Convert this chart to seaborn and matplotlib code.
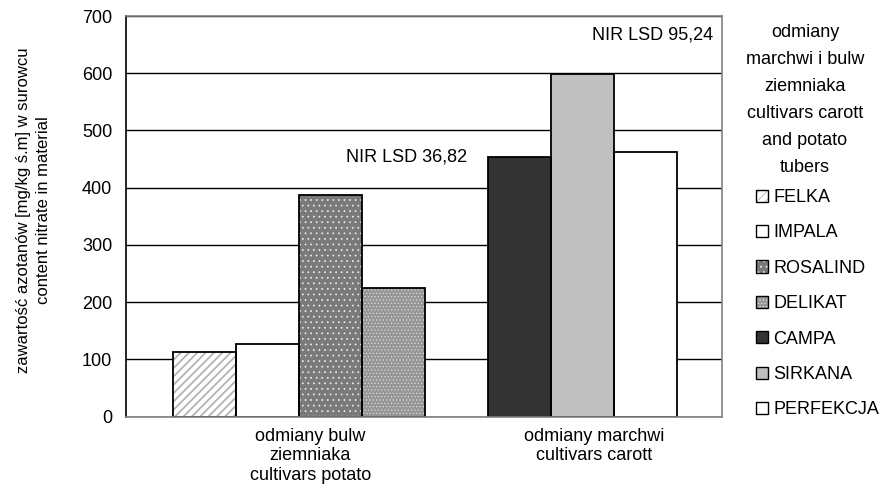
import matplotlib
matplotlib.use("Agg")
import matplotlib.pyplot as plt
from matplotlib.patches import Patch, Rectangle
from matplotlib.legend_handler import HandlerTuple
import pandas as pd
import seaborn as sns

# ---- data -------------------------------------------------------------
varieties = ["FELKA", "IMPALA", "ROSALIND", "DELIKAT", "CAMPA", "SIRKANA", "PERFEKCJA"]
nitrate = [113, 127, 388, 224, 454, 598, 462]          # mg/kg s.m.
crop_group = [0, 0, 0, 0, 1, 1, 1]                      # 0 = potato, 1 = carrot
group_labels = ["odmiany bulw\nziemniaka\ncultivars potato",
                "odmiany marchwi\ncultivars carott"]
lsd_labels = ["NIR LSD 36,82", "NIR LSD 95,24"]
y_ticks = [0, 100, 200, 300, 400, 500, 600, 700]
legend_title = "odmiany\nmarchwi i bulw\nziemniaka\ncultivars carott\nand potato\ntubers"
y_label = "zawartość azotanów [mg/kg ś.m] w surowcu\ncontent nitrate in material"

# ---- fill styles (face colour, hatch, hatch colour, hatch width) ------
styles = {
    "FELKA":     ("white",   "////",   "#b4b4b4", 1.3),
    "IMPALA":    ("white",   "",       "white",   0.6),
    "ROSALIND":  ("#7a7a7a", "...",    "#f0f0f0", 0.5),
    "DELIKAT":   ("#969696", ".....",  "#dcdcdc", 0.5),
    "CAMPA":     ("#333333", "",       "#333333", 0.6),
    "SIRKANA":   ("#c0c0c0", "",       "#c0c0c0", 0.6),
    "PERFEKCJA": ("white",   "",       "white",   0.6),
}

# one empty slot separates the potato and carrot groups
slot = [i + g for i, g in enumerate(crop_group)]
df = pd.DataFrame({"slot": slot, "variety": varieties, "nitrate": nitrate})

sns.set_theme(style="white")
plt.rcParams["font.family"] = ["Liberation Sans", "DejaVu Sans"]
plt.rcParams["hatch.linewidth"] = 0.6


def style_hatch(p, hatch, hcol, hlw):
    p.set_hatch(hatch)
    p.set_edgecolor(hcol)
    if hasattr(p, "set_hatch_linewidth"):
        p.set_hatch_linewidth(hlw)


FS = 13
fig = plt.figure(figsize=(8.86, 4.9), dpi=100)
ax = fig.add_axes([126 / 886, 1 - 416.7 / 490, 596 / 886, 400.7 / 490])

sns.barplot(data=df, x="slot", y="nitrate", hue="variety", hue_order=varieties,
            palette={v: styles[v][0] for v in varieties}, native_scale=True,
            dodge=False, width=1.0, errorbar=None, legend=False, saturation=1,
            ax=ax)

# restyle bars: hatch drawn in its own colour, black outline on top
handles = []
for cont, v in zip(ax.containers, varieties):
    face, hatch, hcol, hlw = styles[v]
    for bar in cont:
        bar.set_facecolor(face)
        style_hatch(bar, hatch, hcol, hlw)
        bar.set_linewidth(0)
        ax.add_patch(Rectangle(bar.get_xy(), bar.get_width(), bar.get_height(),
                               fill=False, edgecolor="black", linewidth=1.3,
                               zorder=bar.get_zorder() + 0.1))
    fill = Patch(facecolor=face, linewidth=0)
    style_hatch(fill, hatch, hcol, hlw)
    handles.append((fill, Patch(fill=False, edgecolor="black", linewidth=1.0)))

# axes
ax.set_xlim(-1.24, 8.21)
ax.set_ylim(0, 700)
ax.set_yticks(y_ticks)
ax.set_yticklabels([str(t) for t in y_ticks])
ax.yaxis.grid(True, color="black", linewidth=1.0)
ax.xaxis.grid(False)
ax.set_axisbelow(True)

group_centres = [sum(s for s, g in zip(slot, crop_group) if g == k) /
                 crop_group.count(k) for k in (0, 1)]
ax.set_xticks([c + 0.18 for c in group_centres])
ax.set_xticklabels(group_labels, fontsize=FS, linespacing=1.2)
ax.set_xlabel("")
ax.tick_params(axis="x", length=0, pad=8, colors="black")
ax.tick_params(axis="y", direction="out", length=5, width=1, color="black",
               pad=5, labelsize=FS, labelcolor="black")

for side in ("top", "right", "bottom"):
    ax.spines[side].set_color("#808080")
    ax.spines[side].set_linewidth(1.2)
ax.spines["left"].set_color("black")
ax.spines["left"].set_linewidth(1.2)

ax.set_ylabel(y_label, fontsize=12, linespacing=1.45, color="black")
ax.yaxis.set_label_coords(-0.125, 0.515)

# LSD annotations
ax.text(0.471, 0.648, lsd_labels[0], transform=ax.transAxes, ha="center",
        va="center", fontsize=FS, color="black")
ax.text(0.884, 0.953, lsd_labels[1], transform=ax.transAxes, ha="center",
        va="center", fontsize=FS, color="black")

# legend with its title set above it
fig.text(805 / 886, 1 - 100 / 490, legend_title, ha="center", va="center",
         multialignment="center", fontsize=FS, linespacing=1.78, color="black")
fig.legend(handles, varieties, handler_map={tuple: HandlerTuple(ndivide=1)},
           loc="upper left", bbox_to_anchor=(756 / 886, 1 - 189 / 490),
           frameon=False, fontsize=FS, handlelength=0.65, handleheight=0.65,
           handletextpad=0.3, labelspacing=1.02, borderpad=0, borderaxespad=0,
           labelcolor="black")

fig.savefig("out.png", dpi=100)
